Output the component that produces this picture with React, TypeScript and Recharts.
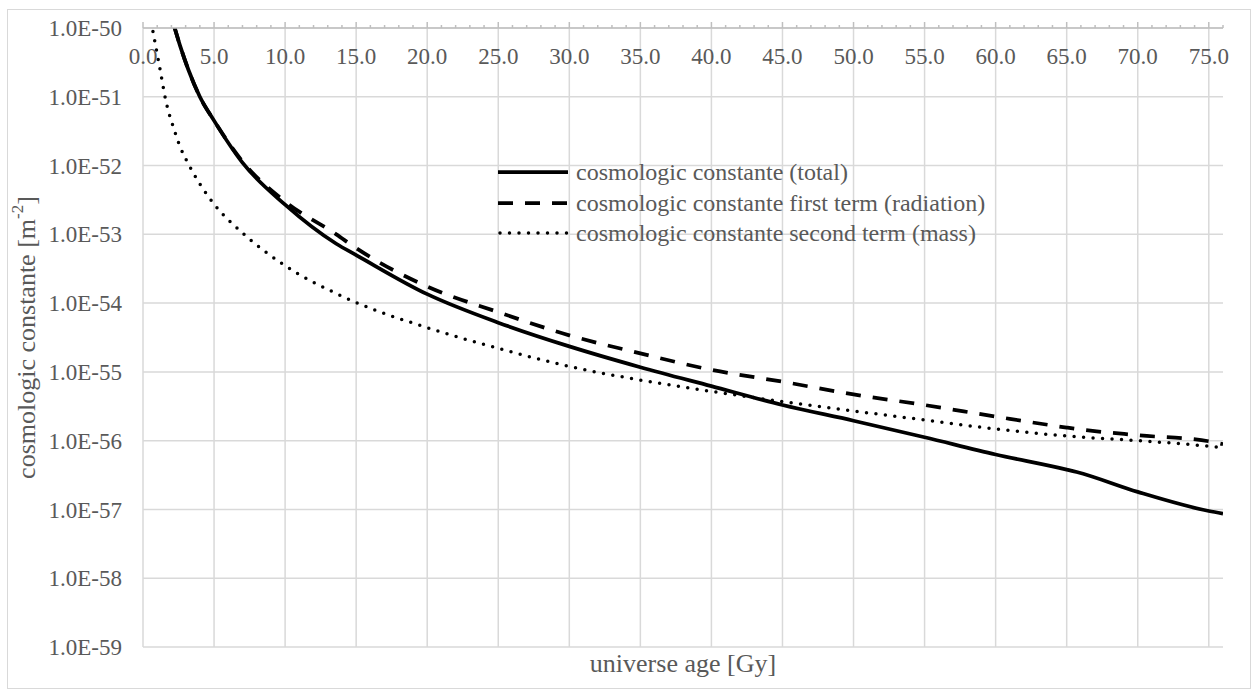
import React from 'react';
import { LineChart, Line, XAxis, YAxis, CartesianGrid, ReferenceLine, Legend, Label } from 'recharts';

// universe age [Gy]
const ages = [0.7, 1.2, 1.6, 2.2, 2.6, 3.2, 4, 5, 7, 10, 13.6, 15, 20, 25, 30, 35, 40, 45, 50, 55, 60, 65, 65.7, 70, 75, 76];

// cosmologic constante [m^-2]
const total = [null, null, null, 1.05e-50, 5.6e-51, 2.45e-51, 1.0e-51, 4.5e-52, 1.1e-52, 2.7e-53, 7.3e-54, 5.0e-54,
  1.35e-54, 5.2e-55, 2.35e-55, 1.17e-55, 6.2e-56, 3.3e-56, 1.95e-56, 1.12e-56, 6.3e-57, 3.8e-57, 3.5e-57, 1.8e-57, 9.5e-58, 8.7e-58];
const radiation = [null, null, null, 1.05e-50, 5.6e-51, 2.45e-51, 1.0e-51, 4.5e-52, 1.15e-52, 3.0e-53, 1.0e-53, 6.3e-54,
  1.74e-54, 7.4e-55, 3.4e-55, 1.86e-55, 1.07e-55, 7.2e-56, 4.7e-56, 3.3e-56, 2.24e-56, 1.55e-56, 1.48e-56, 1.2e-56, 9.8e-57, 8.9e-57];
const mass = [8.9e-51, 2.5e-51, 8.9e-52, 3.3e-52, 1.9e-52, 1.05e-52, 5.4e-53, 2.75e-53, 1.05e-53, 3.5e-54, 1.38e-54, 1.02e-54,
  4.4e-55, 2.2e-55, 1.2e-55, 7.6e-56, 5.2e-56, 3.7e-56, 2.7e-56, 2.0e-56, 1.48e-56, 1.17e-56, 1.14e-56, 1.0e-56, 8.3e-57, 7.9e-57];

const yTicks = [1e-59, 1e-58, 1e-57, 1e-56, 1e-55, 1e-54, 1e-53, 1e-52, 1e-51, 1e-50];
const majorAges = [0, 5, 10, 15, 20, 25, 30, 35, 40, 45, 50, 55, 60, 65, 70, 75];
const xTicks = Array.from({ length: 77 }, (_, i) => i);

const seriesNames = [
  'cosmologic constante (total)',
  'cosmologic constante first term (radiation)',
  'cosmologic constante second term (mass)',
];

const data = ages.map((a, i) => ({ age: a, total: total[i], radiation: radiation[i], mass: mass[i] }));

const FONT = 'Liberation Serif';
const TXT = '#595959';
const GRID = '#d9d9d9';
const AXIS = '#bfbfbf';

const styles = [
  { key: 'total', width: 3.75, dash: undefined as string | undefined, cap: 'butt' },
  { key: 'radiation', width: 3.75, dash: '15 12', cap: 'butt' },
  { key: 'mass', width: 3.5, dash: '0 9.5', cap: 'round' },
];

const XTick = (props: any) => {
  const { x, y, payload } = props;
  const v = payload.value;
  const major = v % 5 === 0;
  return (
    <g>
      <line x1={x} x2={x} y1={y} y2={y - (major ? 6 : 3)} stroke={AXIS} strokeWidth={1.5} />
      {major && (
        <text x={x} y={y + 36} textAnchor="middle" fill={TXT} fontSize={23} fontFamily={FONT}>
          {v.toFixed(1)}
        </text>
      )}
    </g>
  );
};

const YTitle = (props: any) => {
  const vb = props.viewBox;
  const cx = 26;
  const cy = vb.y + vb.height / 2;
  return (
    <text x={cx} y={cy} transform={`rotate(-90 ${cx} ${cy})`} textAnchor="middle" dominantBaseline="central"
      fill={TXT} fontSize={26} fontFamily={FONT}>
      cosmologic constante [m<tspan dy={-9} fontSize={17}>-2</tspan><tspan dy={9}>]</tspan>
    </text>
  );
};

const XTitle = (props: any) => {
  const vb = props.viewBox;
  return (
    <text x={vb.x + vb.width / 2} y={672} textAnchor="middle" fill={TXT} fontSize={26} fontFamily={FONT}>
      universe age [Gy]
    </text>
  );
};

const LegendBox = () => (
  <div style={{ fontFamily: FONT, fontSize: 24, color: TXT }}>
    {seriesNames.map((n, i) => (
      <div key={n} style={{ display: 'flex', alignItems: 'center', height: 30.5 }}>
        <svg width={72} height={12} style={{ marginRight: 6 }}>
          <line x1={styles[i].cap === 'round' ? 2 : 0} x2={70} y1={6} y2={6} stroke="#000" strokeWidth={styles[i].width}
            strokeDasharray={styles[i].dash} strokeLinecap={styles[i].cap as any} />
        </svg>
        <span style={{ lineHeight: 1 }}>{n}</span>
      </div>
    ))}
  </div>
);

export default function App() {
  return (
    <div style={{ position: 'absolute', left: 0, top: 0, width: 1258, height: 696, background: '#fff' }}>
      <div style={{ position: 'absolute', left: 7, top: 9, width: 1242, height: 678, border: `1.5px solid ${GRID}` }} />
      <LineChart width={1258} height={696} data={data} margin={{ top: 0, right: 35, bottom: 49, left: 0 }}
        style={{ position: 'absolute', left: 0, top: 0 }}>
        <CartesianGrid vertical={false} stroke={GRID} strokeWidth={1.5} />
        {majorAges.map(a => (
          <ReferenceLine key={a} x={a} stroke={GRID} strokeWidth={1.5} />
        ))}
        <XAxis dataKey="age" type="number" orientation="top" domain={[0, 76]} ticks={xTicks} interval={0}
          height={28} tickSize={0} tickMargin={0} tick={(p: any) => <XTick {...p} />}
          axisLine={{ stroke: AXIS, strokeWidth: 1.5 }} allowDataOverflow>
          <Label content={<XTitle />} />
        </XAxis>
        <YAxis type="number" scale="log" domain={[1e-59, 1e-50]} ticks={yTicks} interval={0} allowDataOverflow
          width={143} axisLine={false} tickLine={false} tickSize={0} tickMargin={21}
          tick={{ fill: TXT, fontSize: 23, fontFamily: FONT }}
          tickFormatter={(v: number) => `1.0E${Math.round(Math.log10(v))}`}>
          <Label content={<YTitle />} />
        </YAxis>
        <Legend layout="vertical" verticalAlign="middle" align="center" content={<LegendBox />}
          wrapperStyle={{ left: 498, top: 157, width: 'auto', height: 'auto' }} />
        {styles.map(s => (
          <Line key={s.key} dataKey={s.key} type="monotone" stroke="#000" strokeWidth={s.width}
            strokeDasharray={s.dash} strokeLinecap={s.cap as any} dot={false} activeDot={false}
            isAnimationActive={false} />
        ))}
      </LineChart>
    </div>
  );
}
